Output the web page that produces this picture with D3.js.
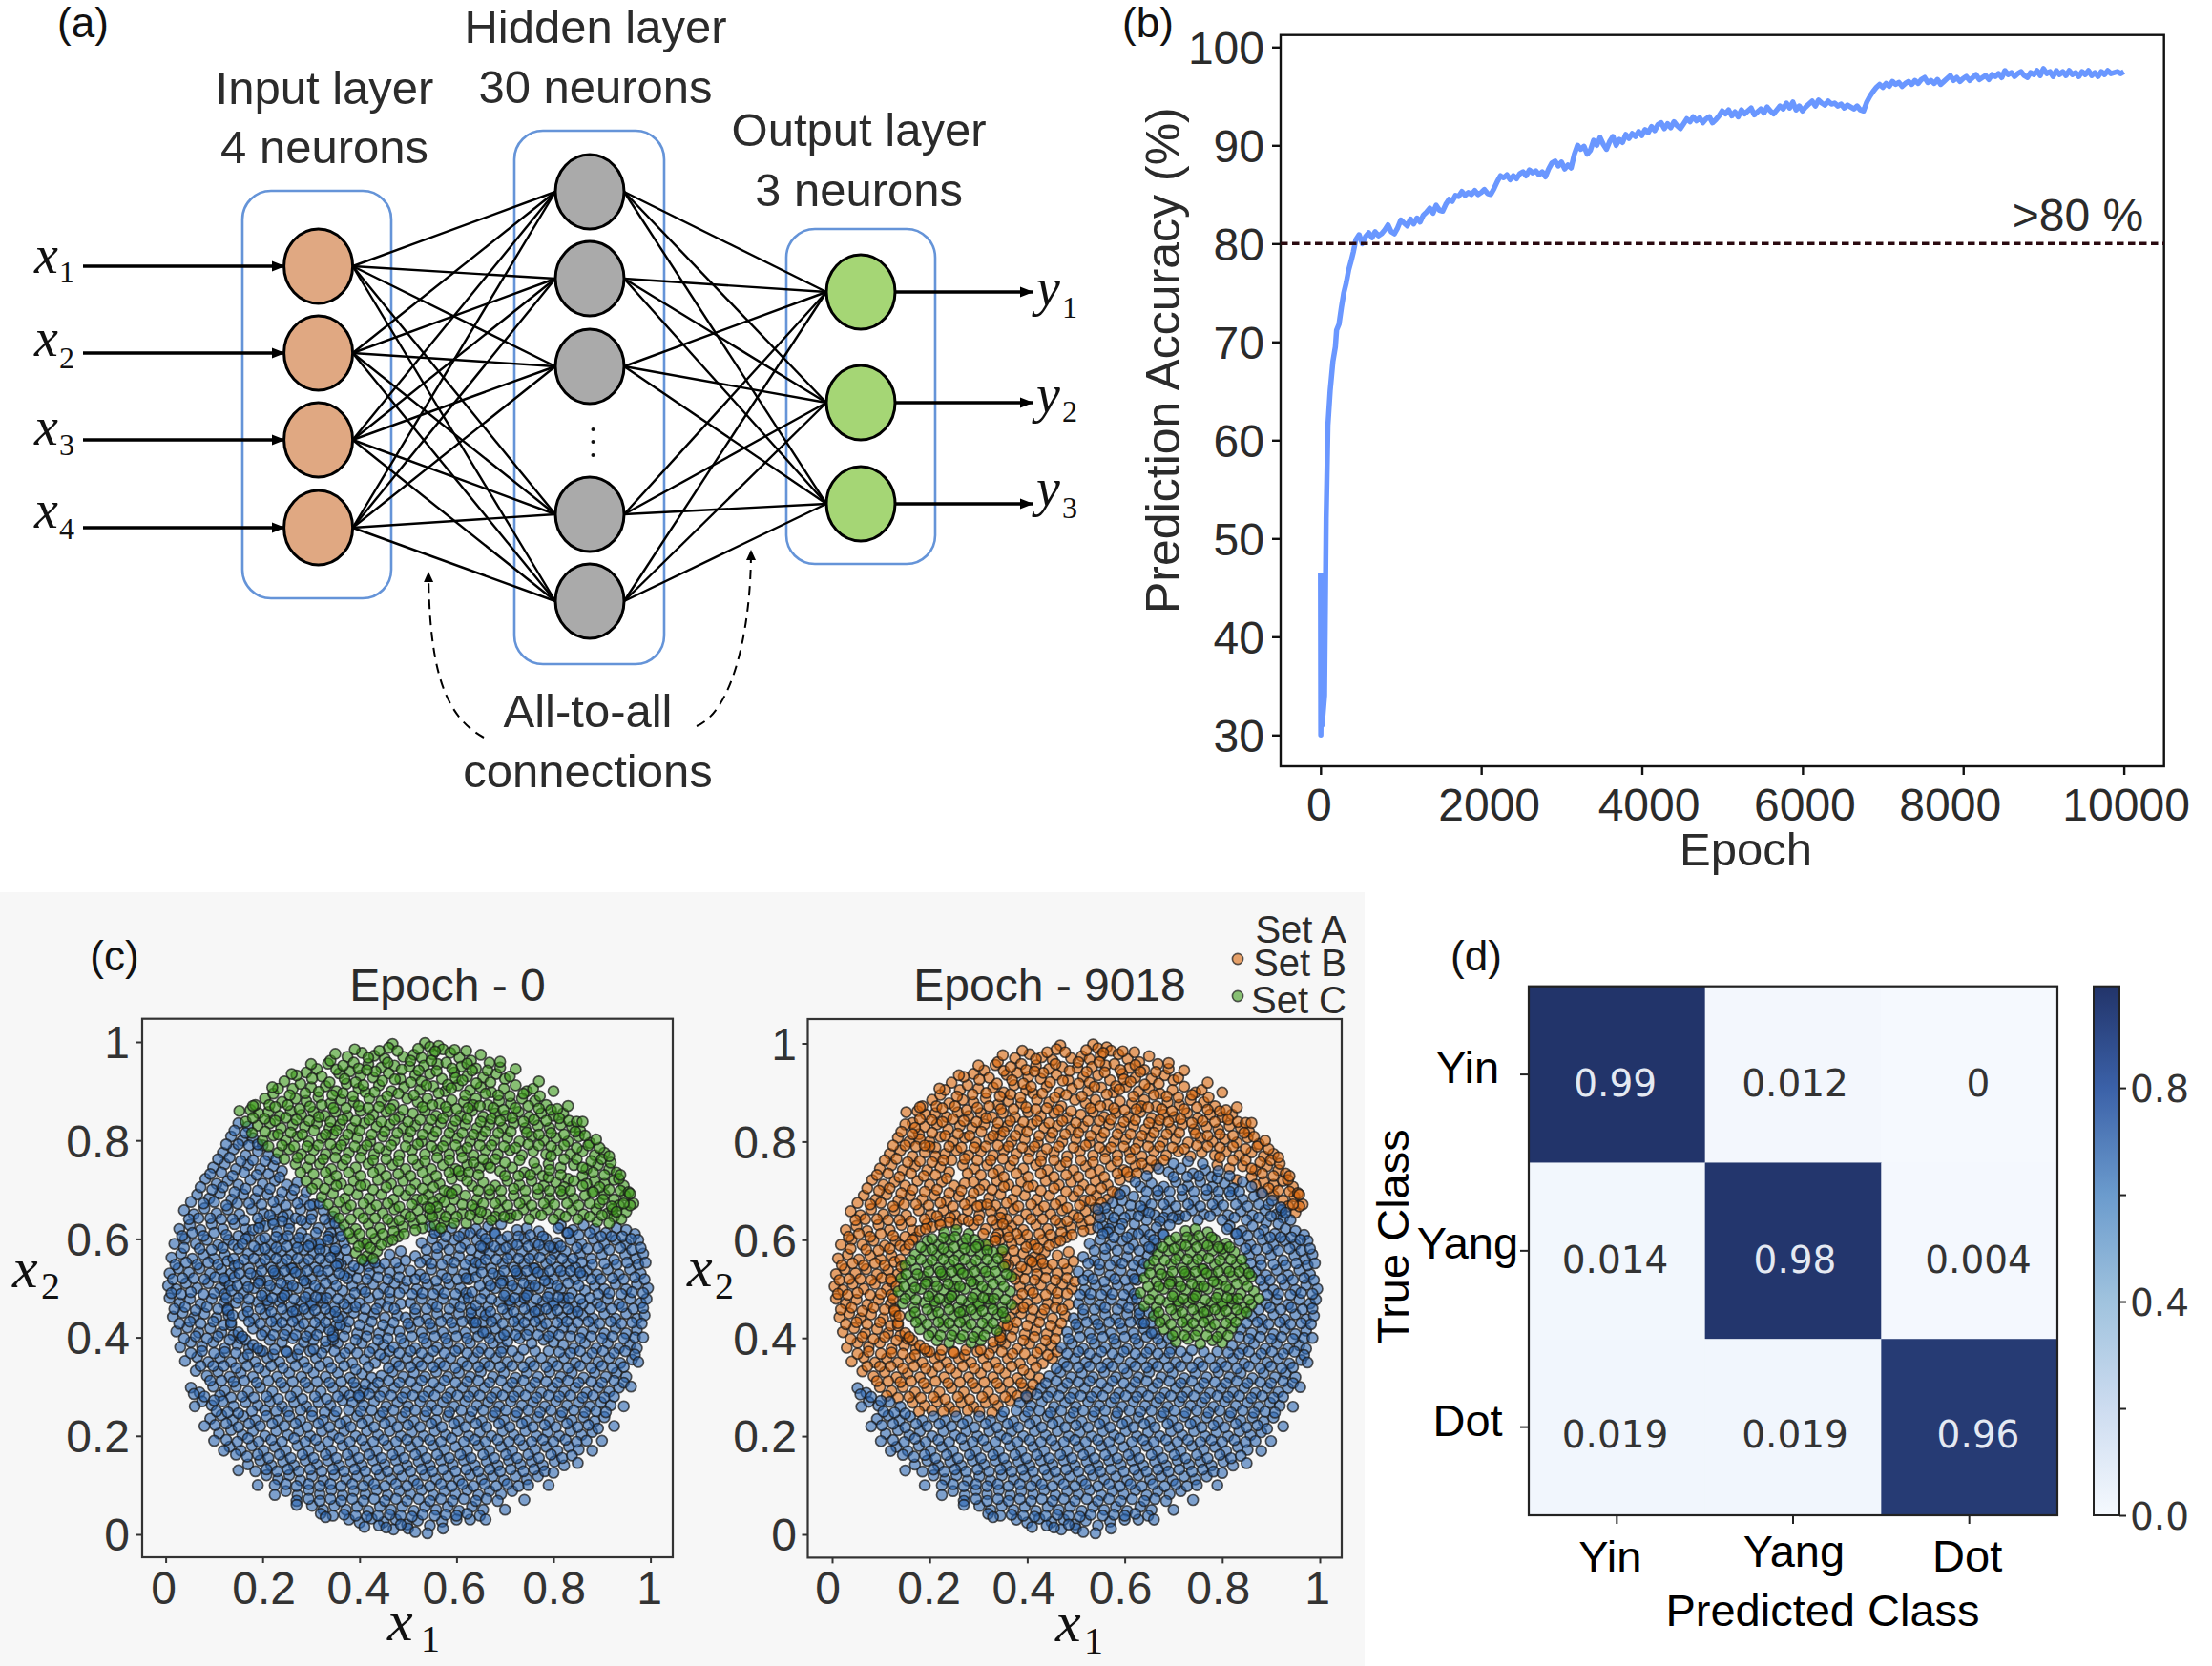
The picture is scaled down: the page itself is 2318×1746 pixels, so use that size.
<!DOCTYPE html>
<html><head><meta charset="utf-8">
<script src="https://cdn.jsdelivr.net/npm/d3@7"></script>
<style>html,body{margin:0;background:#fff}svg{display:block}text{font-family:"Liberation Sans",Arial,sans-serif}</style>
</head><body><svg id="c" width="2318" height="1746"></svg>
<script>
// (a) network
const inputNodes=[279,370,461,553], hiddenNodes=[201,292,384,539,630], outputNodes=[306,422,528];
// (b) accuracy curve
const earlyEpochs=[0,4,8,20,50,70,92,120,154,185,200,230,260,290,320,350,380,410];
const earlyAcc=[46.5,30,33,31,34,52,61.5,65,68,69.5,71.2,71.8,73.5,75,76,77.3,78.2,79.2];
const laterStart=440, laterStep=40;
const laterAcc=[80.4,80.9,80.0,80.7,81.1,80.6,81.2,80.8,81.0,81.4,
81.9,81.2,81.0,81.6,82.4,82.1,81.8,82.5,82.0,82.6,
82.2,82.9,83.2,83.6,83.1,83.9,83.4,83.3,84.0,84.5,
84.3,84.9,84.8,85.3,84.9,85.2,85.0,85.4,85.0,85.2,
85.5,85.1,85.0,85.6,86.3,86.9,86.7,87.0,86.5,86.9,
86.6,87.1,87.3,86.9,87.5,87.2,87.4,87.0,87.3,86.8,
87.6,88.2,88.4,87.9,88.3,87.6,88.0,87.7,89.1,90.0,
89.6,89.9,89.1,89.5,90.5,90.0,90.8,90.1,89.6,90.4,
90.9,90.0,90.6,90.3,91.1,90.7,91.2,90.9,91.4,91.0,
91.6,91.3,91.9,91.5,92.1,92.3,91.7,92.2,91.8,92.4,
92.0,91.7,92.2,92.7,92.4,92.9,92.5,92.8,92.3,92.7,
92.9,92.3,92.6,93.0,93.5,93.2,93.6,93.0,93.4,92.9,
93.6,93.2,93.5,93.8,93.1,93.4,93.7,93.3,93.9,93.5,
93.2,93.6,94.0,93.7,94.3,93.8,94.4,93.6,94.0,93.5,
93.9,94.2,94.5,94.0,94.6,94.3,94.1,94.5,94.2,94.3,
94.0,94.2,93.8,94.1,93.9,93.7,94.0,93.6,93.5,94.4,
95.0,95.5,95.9,96.2,95.9,96.3,96.0,96.5,96.2,96.4,
96.0,96.3,96.5,96.2,96.6,96.3,96.7,96.9,96.4,96.6,
96.3,96.7,96.2,96.5,96.8,97.1,96.6,96.9,96.5,96.8,
97.0,96.6,96.9,97.2,96.7,96.9,97.1,96.7,97.2,97.0,
97.3,96.9,97.6,97.2,97.4,97.0,97.3,97.5,97.1,96.9,
97.4,97.2,97.6,97.1,97.8,97.3,97.5,97.0,97.6,97.2,
97.5,97.1,97.6,97.2,97.4,97.0,97.5,97.2,97.6,97.1,
97.4,97.0,97.5,97.2,97.6,97.3,97.4,97.5,97.3,97.5];
const bXTicks=[0,2000,4000,6000,8000,10000], bYTicks=[30,40,50,60,70,80,90,100];
// (c) samples, x,y in thousandths, grouped by class at epoch 0 / epoch 9018
const greenOrange=[468,996,460,988,535,998,545,990,563,992,572,985,405,978,430,972,452,966,490,970,512,974,528,968,551,975,587,978,606,968,630,962,335,956,340,962,375,970,388,958,418,955,445,948,472,952,503,950,533,952,561,955,579,958,610,950,640,946,668,958,
290,938,312,945,322,930,358,936,380,940,402,932,428,928,460,936,484,925,515,932,545,935,570,925,595,938,622,930,655,928,682,935,700,925,
245,920,262,905,278,915,300,908,330,910,352,900,373,915,398,905,412,898,440,912,466,900,492,908,525,903,552,910,577,900,603,912,628,902,650,908,672,898,698,905,722,912,745,900,
205,885,222,895,240,878,268,885,290,880,315,888,340,875,362,882,388,878,420,885,445,880,470,872,498,885,520,878,540,885,565,875,590,882,615,878,640,885,665,872,688,880,712,875,735,885,762,880,785,872,
152,860,175,862,192,855,212,858,235,850,258,860,280,852,305,858,328,850,350,858,375,850,402,860,428,852,455,858,482,848,510,855,535,860,558,850,582,858,608,850,632,860,655,848,680,855,702,850,728,858,750,848,775,855,800,850,820,855,
165,838,190,830,215,835,238,825,262,832,287,828,312,835,338,825,360,832,385,825,410,835,435,828,462,832,490,825,515,830,542,825,568,835,592,828,618,832,642,825,668,832,695,826,718,835,742,825,768,830,792,825,815,832,838,828,855,820,
200,800,222,810,248,800,272,808,295,798,322,805,345,812,368,800,395,805,422,798,448,808,472,800,500,805,528,798,552,808,578,800,602,805,628,798,652,808,678,800,705,805,730,798,755,808,780,800,805,805,830,798,852,808,875,795,
232,775,255,782,280,772,305,780,330,772,352,782,378,775,405,780,430,772,455,778,482,770,508,780,535,772,560,780,585,772,610,778,635,770,660,780,685,772,710,780,735,770,758,778,785,772,808,780,835,772,860,778,885,770,905,775,
268,752,292,745,318,752,342,742,365,750,392,745,418,752,442,742,468,750,495,742,520,750,548,742,572,750,598,742,622,750,648,745,665,752,790,752,815,745,842,750,868,742,892,750,915,742,930,735,
290,718,312,712,338,720,362,712,388,718,412,710,438,720,465,712,490,718,515,712,540,720,565,712,590,722,610,728,830,722,860,728,885,718,905,712,925,720,945,708,
322,685,345,692,370,682,395,690,420,682,445,690,470,680,495,688,518,680,542,690,565,682,585,695,880,695,905,690,925,680,948,688,965,672,
348,655,372,662,398,652,422,660,448,652,472,660,495,650,520,658,540,665,935,668,950,655,958,668,
368,628,392,620,418,630,442,622,468,632,490,625,512,632,530,622,385,600,408,592,432,600,458,594,480,605,392,572,415,565,436,575,415,590];
const greenOrange2=[478,982,521,986,556,981,596,984,418,968,441,982,505,962,622,956,352,944,366,952,398,946,433,940,458,958,487,944,522,942,548,962,591,946,598,927,632,942,664,942,690,948,
302,926,270,932,338,918,369,925,392,918,415,943,447,921,473,924,506,918,528,920,559,941,582,913,612,922,641,916,670,918,710,930,
232,905,256,892,288,896,316,899,344,892,366,896,386,890,408,912,431,898,457,890,480,895,512,892,538,912,563,896,589,906,618,892,634,872,660,895,686,892,710,890,738,895,758,905,772,890,
185,872,214,872,226,868,252,872,276,864,298,869,322,872,346,866,372,866,398,870,418,866,440,868,464,864,490,862,530,868,550,872,578,868,600,864,624,866,648,870,676,866,697,862,722,866,748,870,770,865,795,862,808,864,
180,846,204,844,226,840,248,846,270,842,296,840,316,848,340,838,365,842,392,840,420,842,445,838,472,842,500,838,525,842,548,842,572,845,598,840,622,844,650,838,672,844,690,840,715,846,738,838,760,842,785,840,812,845,832,840,848,838,
178,815,205,818,232,812,258,816,282,812,306,820,330,812,352,820,376,812,400,820,425,812,452,818,478,815,505,818,530,812,558,818,585,815,612,815,635,812,660,818,686,815,712,818,745,816,770,812,795,815,822,812,845,818,865,810,
212,788,240,790,265,788,292,788,315,790,340,792,362,790,390,788,415,790,440,785,465,790,495,788,520,792,548,788,572,788,598,790,622,785,648,790,672,790,698,788,722,785,748,792,770,790,795,788,822,790,848,785,872,790,895,785,
245,762,272,765,298,762,325,762,350,765,372,762,402,765,428,760,455,762,480,758,510,762,535,758,560,765,585,760,612,765,635,755,655,762,680,762,795,768,822,762,848,762,878,758,900,762,918,755,
278,735,305,732,330,735,352,728,378,735,402,728,428,735,455,728,480,732,505,728,530,735,558,728,585,735,605,738,625,735,860,745,882,735,905,730,935,722,
302,702,328,702,352,708,378,700,402,708,428,700,455,705,480,698,505,700,530,702,552,705,575,698,868,712,895,705,915,700,938,698,955,695,
335,670,358,675,382,668,408,672,435,668,458,672,482,665,508,670,530,680,552,675,945,672,
358,642,382,640,408,642,432,642,458,640,482,638,505,645,528,640,545,650,378,612,400,610,425,612,448,610,470,615,492,610,515,618,398,585,422,582,445,588,468,598,405,558,428,560,
800,900,830,870,860,838,888,802,915,768,938,730,958,692,770,920,722,945,690,960,650,974,620,982,180,870,220,908,260,935,300,955,350,976,390,985];
const greenBlue=[690,738,715,745,740,735,765,742,632,708,655,715,680,708,705,718,730,710,755,718,780,708,805,715,822,705,
595,680,618,688,642,680,668,690,692,680,718,688,742,680,768,690,792,682,818,690,842,682,865,688,
565,652,588,660,612,652,638,660,662,650,688,658,712,650,738,660,762,652,788,660,812,650,838,658,862,650,888,660,912,652,925,645,
555,628,575,635,620,632,645,640,680,645,710,642,890,635,915,632,940,640];
const greenBlue2=[700,728,728,728,752,730,778,728,790,725,645,698,668,700,692,698,718,702,742,698,768,702,792,698,815,698,835,698,
612,670,632,668,655,672,680,672,705,668,730,672,755,668,780,672,802,670,828,672,852,668,875,672,895,672,
578,645,600,645,628,648,650,655,672,638,698,645,725,648,750,640,775,648,800,640,825,645,850,640,875,645,900,648,922,660,568,622,595,632,
600,700,622,718,645,730,670,745,700,755,730,760,760,755,792,740,815,730,842,718,860,708,882,695,902,680,920,666,575,675,590,692,550,645,560,665,545,662,930,655];
const blueOrange=[150,835,170,828,135,808,158,800,180,805,200,790,118,775,140,782,165,770,190,778,212,770,98,745,122,752,145,742,170,750,195,742,222,748,240,738,
82,722,105,712,128,718,150,710,175,720,200,712,225,718,250,710,272,715,65,690,90,682,112,692,136,680,160,690,185,682,210,690,235,680,260,688,285,680,305,670,
38,658,58,650,80,662,105,652,128,660,152,650,178,660,202,652,228,660,252,650,278,660,302,650,325,658,345,645,
28,620,50,628,72,618,95,630,118,620,142,630,165,620,195,632,222,638,255,632,290,630,315,622,338,630,360,618,
18,590,40,600,62,590,85,598,108,588,130,598,320,590,345,600,368,592,12,562,32,570,55,560,78,568,100,560,122,568,355,565,375,558,462,568,485,575,418,545,
8,530,26,540,48,532,70,540,92,530,115,538,380,532,398,540,420,530,440,540,462,532,482,540,
5,505,22,498,42,510,65,500,88,510,112,500,385,505,405,498,428,508,450,500,472,510,492,500,
8,480,28,470,50,478,72,468,95,478,120,470,380,478,400,470,420,480,442,470,462,478,485,468,
15,442,35,450,58,440,80,448,105,440,130,445,365,442,388,450,408,440,430,448,452,440,478,445,
22,412,45,420,68,410,92,418,115,410,140,405,345,410,372,418,395,408,418,416,440,408,462,415,
30,380,52,390,75,382,98,390,122,378,148,385,172,378,330,380,355,388,380,378,405,388,428,378,450,385,
40,352,65,360,88,350,112,358,135,350,160,358,185,350,210,358,235,350,260,358,285,350,310,358,335,350,360,358,385,348,410,355,432,348,452,358,
62,332,85,322,108,330,132,320,155,328,180,320,205,330,230,320,255,328,280,320,305,328,330,320,355,328,380,318,405,326,425,318,
98,300,122,292,145,300,170,290,195,298,220,290,245,298,270,290,295,298,320,290,345,298,368,290,392,298,408,290,
165,268,190,262,215,270,240,260,265,268,290,260,315,268,340,262,365,272];
const blueOrange2=[142,820,165,815,150,792,172,790,125,792,190,792,108,762,132,765,155,758,180,760,205,758,228,762,92,732,115,735,138,728,162,735,188,730,212,732,235,725,
72,705,96,700,118,705,142,695,165,702,190,698,215,702,240,695,265,700,290,695,52,675,78,672,100,675,125,668,148,672,172,672,198,670,222,675,248,668,272,672,298,668,318,672,
48,640,68,642,92,642,115,640,138,640,162,638,190,642,215,648,242,645,268,642,300,640,328,640,350,632,
34,606,55,612,78,606,100,612,125,608,150,606,172,605,340,612,362,605,38,582,70,580,95,578,118,582,140,588,335,605,348,575,372,578,
20,548,42,552,65,548,88,552,108,548,128,555,135,530,362,548,388,545,410,555,432,552,452,550,475,552,495,556,
15,518,35,520,58,520,80,518,102,522,122,515,395,520,415,518,438,522,458,518,482,522,498,515,
12,490,32,488,52,492,78,488,100,490,122,488,390,490,412,492,438,488,462,492,482,490,
18,458,40,462,62,455,85,462,108,458,128,458,375,460,392,462,412,458,435,458,458,462,472,458,
28,428,50,432,72,428,98,432,120,425,135,425,352,425,378,432,400,425,425,432,448,425,470,430,
38,398,62,402,85,398,108,402,132,395,155,398,345,395,368,402,392,395,415,402,438,395,458,398,
52,368,75,372,100,368,122,370,145,368,170,365,195,372,222,365,248,372,272,365,298,372,322,368,348,372,370,368,395,368,420,370,442,365,462,372,
72,342,98,342,120,342,145,338,168,342,192,338,218,342,242,338,268,342,292,338,318,342,342,338,368,342,392,335,418,340,
92,312,115,312,140,310,162,312,188,308,212,312,238,308,262,310,288,308,312,310,338,308,362,310,388,308,412,305,
112,282,135,278,158,280,182,278,208,280,232,275,258,280,282,275,308,280,332,275,355,280,380,282,400,278,
178,250,205,252,228,250,252,250,278,252,302,250,328,248,
120,520,125,480,128,455,135,430,150,410,165,395,180,385,200,372,225,376,250,370,275,376,305,376,330,392,345,402,360,425,375,520,140,560,150,580,165,600,180,618,205,626,240,636,280,638,310,612,335,598,355,550,
132,505,138,445,158,402,190,378,142,545,158,590,192,622,222,630];
const blueBlue=[545,625,565,615,590,622,615,612,640,620,665,625,692,630,815,628,840,618,862,628,885,620,908,612,930,622,950,618,968,610,
528,592,550,600,572,590,595,598,618,590,642,598,665,592,835,598,858,590,882,600,905,590,928,598,950,590,975,598,
515,565,538,558,560,568,582,558,605,565,628,558,648,568,855,568,878,560,900,568,925,558,948,568,970,560,985,570,
505,535,525,528,548,538,570,528,592,538,615,530,635,538,868,535,890,528,912,538,935,528,958,538,980,530,
518,498,540,508,562,498,585,508,608,500,885,505,905,498,928,508,950,498,972,508,995,500,
505,470,528,478,550,468,572,478,595,470,615,478,890,470,912,478,935,468,958,478,980,470,992,478,
495,440,515,448,538,438,560,448,582,440,605,448,628,438,860,445,882,438,905,448,928,438,950,448,972,438,988,445,
482,412,505,420,528,410,550,418,572,410,595,418,618,410,640,418,662,410,838,418,860,410,882,418,905,408,928,418,950,408,972,415,
470,380,492,388,515,378,538,388,560,380,582,388,605,378,628,388,652,378,675,388,695,378,820,385,842,378,865,388,888,378,912,388,935,378,958,385,972,378,
475,350,498,358,520,350,542,358,565,348,588,358,612,350,635,358,658,348,682,358,705,350,728,360,752,350,775,358,798,350,822,358,845,348,868,358,892,350,915,358,938,348,962,355,
445,322,468,330,490,320,512,328,535,320,558,330,582,320,605,328,628,320,650,330,675,320,698,328,722,318,745,328,768,320,792,330,815,320,838,328,862,318,885,328,908,320,930,328,950,320,
52,298,70,288,428,298,450,290,472,298,495,288,518,298,542,290,565,298,588,288,612,298,635,290,658,298,682,288,705,298,728,290,752,298,775,288,798,298,822,290,845,298,868,288,892,298,915,290,935,298,
75,270,95,262,118,270,140,260,385,268,408,262,430,270,455,260,478,268,500,260,525,270,548,262,572,268,595,260,618,270,642,262,665,268,688,260,712,270,735,262,758,268,782,260,805,270,828,262,852,268,875,260,898,268,918,262,
92,235,115,242,138,232,160,240,185,232,208,240,232,232,255,240,278,232,302,240,325,232,348,240,372,230,395,240,418,232,442,240,465,230,488,238,512,230,535,240,558,232,582,240,605,230,628,238,652,230,675,240,698,232,722,240,745,230,768,238,792,230,815,240,838,232,862,238,885,230,905,238,
110,205,135,212,158,202,180,210,205,200,228,210,252,202,275,210,298,200,322,210,345,202,368,210,392,200,415,210,438,202,462,210,485,200,508,208,532,200,555,210,578,202,602,210,625,200,648,208,672,200,695,210,718,202,742,210,765,200,788,208,812,200,835,210,858,202,880,208,
132,178,155,170,178,180,202,170,225,178,248,170,272,180,295,170,318,178,342,170,365,180,388,170,412,178,435,170,458,180,482,170,505,178,528,170,552,180,575,172,598,178,622,170,645,180,668,170,692,178,715,170,738,180,762,172,785,178,808,170,832,178,852,172,
170,142,195,150,218,140,242,148,265,140,288,150,312,142,335,150,358,140,382,148,405,140,428,150,452,142,475,150,498,140,522,148,545,140,568,150,592,142,615,150,638,140,662,148,685,140,708,150,732,142,755,148,778,140,802,148,822,140,
208,120,232,112,255,120,278,110,302,118,325,110,348,120,372,112,395,118,418,110,442,120,465,112,488,118,512,110,535,120,558,112,582,118,605,110,628,120,652,112,675,118,698,110,722,118,745,112,768,118,
248,88,272,80,295,90,318,82,342,90,365,80,388,88,412,82,435,90,458,80,482,88,505,82,528,90,552,80,575,88,598,82,622,90,645,80,668,88,692,82,715,88,
302,58,325,50,348,58,372,50,395,56,418,48,442,56,465,50,488,56,512,48,535,56,558,50,582,56,605,48,632,56,655,50,
378,30,400,24,425,32,450,25,475,30,498,20,520,28,545,18,570,26,600,30,628,30,440,18,470,10,500,12,515,5,540,2,572,12];
const blueBlue2=[555,612,578,605,605,605,628,612,652,610,678,612,828,612,852,608,875,612,898,605,920,605,942,605,960,600,
538,578,560,582,585,578,608,582,630,578,655,582,848,582,870,580,892,582,915,578,938,582,962,578,980,582,
525,552,548,550,570,548,595,552,618,548,640,552,858,552,880,548,905,550,930,548,952,552,975,548,990,552,
515,518,535,520,558,515,580,520,602,518,625,518,878,518,898,518,922,520,945,518,968,522,988,518,
508,488,530,490,552,488,575,490,598,488,620,490,892,488,915,490,940,488,962,492,985,490,
515,458,538,458,560,462,585,458,608,462,630,458,650,452,875,458,898,462,920,458,942,462,965,458,985,460,
500,428,522,432,545,428,568,432,590,430,612,432,635,430,655,432,850,430,872,432,895,428,918,432,940,428,962,430,982,428,
485,398,508,402,532,398,555,402,578,398,600,402,622,398,645,402,668,398,690,400,835,402,855,398,878,402,900,398,922,402,945,398,968,400,
482,368,505,372,528,368,552,372,575,368,598,372,622,368,645,370,668,368,692,370,715,372,738,375,762,372,790,372,812,370,835,368,855,372,880,368,902,372,925,368,948,372,968,365,
460,338,482,342,505,340,528,342,552,340,575,342,598,338,622,342,645,340,668,342,690,340,715,342,738,340,760,342,785,340,808,342,830,338,855,342,878,338,900,342,922,338,945,340,
438,308,460,312,482,308,505,310,528,312,552,308,575,312,598,308,622,310,645,312,668,308,692,312,715,308,738,312,762,308,785,310,808,308,830,312,852,308,878,310,900,308,925,312,945,308,
58,285,80,280,100,272,398,282,420,285,442,280,465,282,488,278,510,282,532,280,555,282,580,278,602,282,625,280,648,282,672,278,695,282,718,280,742,282,765,278,790,282,812,280,835,282,860,278,882,282,905,278,925,280,
105,250,128,248,150,246,352,250,378,252,402,250,425,252,448,248,470,252,495,248,515,252,538,250,560,252,585,248,610,252,632,250,655,252,680,248,702,252,725,248,748,252,772,248,795,252,818,248,842,252,865,248,888,250,908,248,
102,222,125,225,150,218,172,225,195,220,220,225,245,220,268,225,292,218,315,225,338,218,360,225,382,218,405,225,430,218,452,225,478,218,500,222,525,218,548,225,570,218,595,225,618,218,640,225,662,218,688,225,710,218,735,225,758,218,782,222,805,218,828,225,850,218,872,222,892,215,
125,192,148,188,170,195,192,188,218,192,240,188,265,195,288,188,310,192,335,188,358,195,380,188,405,192,428,188,450,192,475,188,498,192,520,188,545,192,568,188,590,195,615,188,638,192,660,188,685,192,708,188,730,192,755,188,778,192,800,188,825,192,848,188,868,190,
145,162,168,158,190,162,212,155,235,162,258,155,282,162,305,155,330,162,352,155,375,162,398,155,420,162,445,155,468,162,492,155,515,162,538,155,560,162,585,155,608,162,630,155,655,162,678,155,702,162,725,155,748,162,770,155,795,162,818,155,838,160,
185,128,208,132,230,128,252,132,275,128,298,132,322,128,345,132,368,128,390,132,412,128,435,132,458,128,480,132,505,128,528,132,550,128,572,132,598,128,620,132,645,128,668,132,690,128,712,132,738,128,760,132,782,128,800,125,
225,100,248,102,270,98,295,102,318,98,340,102,362,98,385,102,408,98,430,102,452,98,475,102,498,98,520,102,545,98,568,102,590,98,612,102,635,98,658,102,682,98,705,102,728,98,748,100,
270,68,295,72,318,68,340,72,362,68,385,72,408,68,430,72,452,68,475,72,498,68,522,72,545,68,568,72,592,68,615,72,640,68,662,72,685,68,
320,42,345,38,368,40,392,38,415,36,438,38,462,40,485,38,508,36,530,40,555,38,578,40,600,38,622,42,648,38,410,15,455,14,485,20,
810,622,830,612,680,610,660,600,650,585,620,520,625,480,630,450,640,430,655,410,
120,170,100,190,150,130,190,100,225,80,270,60,330,35,80,220,60,260,850,145,880,170,900,190,925,220,945,260,960,300,790,100,740,70,700,50,660,30,975,350,985,400];
const blueGreen=[230,615,255,620,280,612,195,598,218,590,242,600,268,592,292,600,315,590,170,570,192,578,215,568,238,575,260,568,285,578,305,570,330,575,350,580,
150,548,172,540,195,550,218,542,240,550,262,540,285,550,308,542,330,550,352,545,142,522,165,515,188,525,210,515,232,525,255,518,278,528,300,518,322,525,345,518,368,525,
136,495,160,490,182,500,205,490,228,498,250,490,272,500,295,490,318,498,340,490,365,495,145,470,168,462,190,472,212,465,235,472,258,462,280,472,302,465,325,470,348,462,368,468,
160,445,182,438,205,448,228,438,250,445,272,438,295,448,318,440,340,448,355,440,180,418,205,412,228,422,250,415,275,422,298,412,320,420,338,415,215,395,240,390,262,398,285,390,305,395,
250,505,240,480,300,470,270,455,225,530,290,510,210,475,320,480,260,540,195,515,
725,618,745,622,770,615,692,598,715,590,740,600,762,592,785,600,808,592,668,570,690,578,712,568,735,575,758,568,780,578,802,570,825,575,
650,548,672,540,695,550,718,542,740,550,762,540,785,550,808,542,830,550,845,542,640,522,665,515,688,525,710,515,732,525,755,518,778,528,800,518,822,525,845,518,860,525,
632,492,658,490,680,500,702,490,725,498,748,490,770,500,792,490,815,498,838,490,865,495,875,480,640,465,665,462,688,472,710,465,732,472,755,462,778,472,800,465,822,470,845,462,860,468,
660,445,682,438,705,448,728,438,750,445,772,438,795,448,818,440,838,448,680,418,705,412,728,422,750,415,775,422,798,412,820,420,705,392,730,398,755,388,780,395,800,390,
750,505,740,480,800,470,770,455,725,530,790,510,710,475,820,480,760,540,695,515];
const blueGreen2=[205,602,228,604,252,606,275,602,300,590,182,585,205,580,228,582,250,585,272,582,295,585,318,578,162,558,182,560,205,558,228,560,250,558,272,560,295,558,318,560,340,562,
152,530,175,530,198,535,222,535,245,535,268,532,292,535,315,535,335,535,358,530,148,505,170,502,192,510,215,505,238,510,262,505,285,515,308,505,330,510,352,505,
150,480,172,478,198,485,220,480,245,485,265,478,288,482,310,482,332,480,355,478,170,452,195,458,218,452,240,458,262,452,285,458,308,455,330,458,350,452,
172,432,195,428,218,432,240,430,262,432,285,428,308,430,330,430,198,405,222,405,245,405,268,405,290,402,312,405,
705,605,728,605,752,608,778,605,800,582,678,585,702,582,725,588,748,585,770,588,792,585,815,585,660,558,682,558,705,560,728,560,750,560,772,562,795,558,818,560,840,560,
652,532,675,530,698,535,722,535,745,535,768,532,792,535,815,535,835,535,855,532,648,505,670,505,692,510,715,505,738,510,762,505,782,515,808,505,830,510,852,505,
650,478,672,478,698,485,720,480,745,485,765,478,788,482,810,482,832,480,855,478,670,452,695,458,718,452,740,458,762,452,785,458,808,455,830,458,850,452,
672,432,695,428,718,432,740,430,762,432,785,428,808,430,828,432,698,405,722,405,745,405,768,405,790,402,812,405];
const cTicks=[0,.2,.4,.6,.8,1];
// (d) confusion matrix
const classes=["Yin","Yang","Dot"];
const confusion=[[0.99,0.012,0],[0.014,0.98,0.004],[0.019,0.019,0.96]];
const confusionText=[["0.99","0.012","0"],["0.014","0.98","0.004"],["0.019","0.019","0.96"]];
const cmapStops=[0,.2,.4,.6,.8,.99];
const cmapColors=["#f5f9fe","#cddcf0","#a0c3de","#6b9bcd","#3b61a8","#22346a"];
const cbTicks=[0,.2,.4,.6,.8];

const svg=d3.select("#c");
const INK="#2b2b2b";
function T(x,y,s,o={}){return svg.append("text").attr("x",x).attr("y",y).text(s)
 .attr("font-size",o.size||47).attr("fill",o.fill||INK).attr("text-anchor",o.anchor||"middle")
 .style("font-family",o.family||null).style("font-style",o.style||null)
 .attr("transform",o.rot?`rotate(${o.rot} ${x} ${y})`:null)}
const SERIF='"Liberation Serif",serif';
function M(x,y,b,sx,sy,s,size,ssize){T(x,y,b,{size,family:SERIF,style:"italic",anchor:"start",fill:"#111"});T(sx,sy,s,{size:ssize,family:SERIF,anchor:"start",fill:"#111"})}

// background for (c)
svg.append("rect").attr("x",0).attr("y",935).attr("width",1430).attr("height",811).attr("fill","#f7f7f7");

// ---- (a)
const defs=svg.append("defs");
defs.append("marker").attr("id","ah").attr("markerUnits","userSpaceOnUse").attr("markerWidth",14).attr("markerHeight",12).attr("refX",13).attr("refY",6).attr("orient","auto")
 .append("path").attr("d","M0,0.5L14,6L0,11.5Z").attr("fill","#000");
defs.append("marker").attr("id","ad").attr("markerUnits","userSpaceOnUse").attr("markerWidth",11).attr("markerHeight",12).attr("refX",10).attr("refY",6).attr("orient","auto")
 .append("path").attr("d","M0,1L11,6L0,11Z").attr("fill","#000");
[[254,200,156,427],[539,137,157,559],[824,240,156,351]].forEach(b=>svg.append("rect").attr("x",b[0]).attr("y",b[1]).attr("width",b[2]).attr("height",b[3]).attr("rx",30).attr("fill","none").attr("stroke","#6594d8").attr("stroke-width",2.6));
const XI=333.6,XH=618,XO=902,RX=36,RY=39;
const links=svg.append("g").attr("stroke","#000").attr("stroke-width",2.4);
inputNodes.forEach(a=>hiddenNodes.forEach(b=>links.append("line").attr("x1",XI+RX).attr("y1",a).attr("x2",XH-RX).attr("y2",b)));
hiddenNodes.forEach(a=>outputNodes.forEach(b=>links.append("line").attr("x1",XH+RX).attr("y1",a).attr("x2",XO-RX).attr("y2",b)));
inputNodes.forEach(y=>svg.append("line").attr("x1",87).attr("x2",298).attr("y1",y).attr("y2",y).attr("stroke","#000").attr("stroke-width",3.6).attr("marker-end","url(#ah)"));
outputNodes.forEach(y=>svg.append("line").attr("x1",938).attr("x2",1082).attr("y1",y).attr("y2",y).attr("stroke","#000").attr("stroke-width",3.6).attr("marker-end","url(#ah)"));
[[XI,inputNodes,"#e0a882"],[XH,hiddenNodes,"#aaaaaa"],[XO,outputNodes,"#a5d675"]].forEach(([x,ys,f])=>ys.forEach(y=>svg.append("ellipse").attr("cx",x).attr("cy",y).attr("rx",RX).attr("ry",RY).attr("fill",f).attr("stroke","#000").attr("stroke-width",3)));
[450,463,477].forEach(y=>svg.append("circle").attr("cx",621.5).attr("cy",y).attr("r",2).attr("fill","#111"));
[["M507,773C465,750 450,700 449,600"],["M730,761C768,745 787,660 787,577"]].forEach(d=>svg.append("path").attr("d",d[0]).attr("fill","none").attr("stroke","#000").attr("stroke-width",2).attr("stroke-dasharray","10 7").attr("marker-end","url(#ad)"));
T(340,109.4,"Input layer",{size:49});T(340,171,"4 neurons",{size:49});
T(624,45,"Hidden layer",{size:49});T(624,108,"30 neurons",{size:49});
T(900,152.6,"Output layer",{size:49});T(900,216,"3 neurons",{size:49});
T(616,762,"All-to-all",{size:49});T(616,825,"connections",{size:49});
T(87,39,"(a)",{size:44,fill:"#111"});T(1203,38.5,"(b)",{size:44,fill:"#111"});T(120,1017,"(c)",{size:44,fill:"#111"});T(1547,1016.6,"(d)",{size:44,fill:"#111"});
[[286,296],[373,386],[466,477],[553,565]].forEach((p,i)=>M(36,p[0],"x",62,p[1],String(i+1),56,32));
[[320,333],[432,441.5],[530,543]].forEach((p,i)=>M(1086,p[0],"y",1113,p[1],String(i+1),56,32));

// ---- (b)
const bx=d3.scaleLinear().domain([0,10000]).range([1383.8,2225.6]);
const by=d3.scaleLinear().domain([30,100]).range([770.3,49.3]);
const bL=1342,bT=36.7,bR=2267.7,bB=803;
const gb=svg.append("g");
const bxa=svg.append("g").attr("transform",`translate(0,${bB})`).call(d3.axisBottom(bx).tickValues(bXTicks).tickSize(9).tickFormat(d=>d));
const bxOff=[-2,8,7,2,-14,2];
bxa.selectAll("text").attr("x",(d,i)=>bxOff[i]).attr("y",57).attr("dy",0);
const bya=svg.append("g").attr("transform",`translate(${bL},0)`).call(d3.axisLeft(by).tickValues(bYTicks).tickSize(9));
bya.selectAll("text").attr("x",-17).attr("dy","0.35em");
[bxa,bya].forEach(a=>{a.select(".domain").remove();a.selectAll("line").attr("stroke","#111").attr("stroke-width",2.4);a.selectAll("text").attr("font-size",48).attr("fill",INK).style("font-family",'"Liberation Sans"')});
svg.append("rect").attr("x",bL).attr("y",bT).attr("width",bR-bL).attr("height",bB-bT).attr("fill","none").attr("stroke","#111").attr("stroke-width",2.4);
const accSeries=earlyEpochs.map((e,i)=>[e,earlyAcc[i]]).concat(laterAcc.map((v,i)=>[laterStart+i*laterStep,v]));
gb.append("path").attr("d",d3.line().x(d=>bx(d[0])).y(d=>by(d[1]))(accSeries)).attr("fill","none").attr("stroke","#6a97ff").attr("stroke-width",5.5).attr("stroke-linejoin","round");
svg.append("line").attr("x1",bL).attr("x2",bR).attr("y1",by(80)).attr("y2",by(80)).attr("stroke","#2a0a10").attr("stroke-width",3.6).attr("stroke-dasharray","7.5 4.5");
T(2177.5,242,">80 %",{size:48});
T(1829.5,907,"Epoch",{size:49});
T(1236,377.6,"Prediction Accuracy (%)",{size:50,rot:-90});

// ---- (c)
const pairs=a=>d3.range(0,a.length,2).map(i=>[a[i]/1000,a[i+1]/1000]);
const C={b:"#2b66b1",o:"#d9650a",g:"#3c9a1b"};
function scatter(x0,x1,y0,y1,frame,xOff,yLab,layers){
 const x=d3.scaleLinear().domain([0,1]).range([x0,x1]),y=d3.scaleLinear().domain([0,1]).range([y0,y1]);
 const g=svg.append("g");
 layers.forEach(([arr,c])=>g.append("g").selectAll("circle").data(pairs(arr)).join("circle")
  .attr("cx",d=>x(d[0])).attr("cy",d=>y(d[1])).attr("r",5.5).attr("fill",c).attr("fill-opacity",.6).attr("stroke","#1a1a1a").attr("stroke-opacity",.75).attr("stroke-width",1.7));
 const fmt=d=>String(d);
 const xa=svg.append("g").attr("transform",`translate(0,${frame[3]})`).call(d3.axisBottom(x).tickValues(cTicks).tickSize(6).tickFormat(fmt));
 xa.selectAll("text").attr("x",(d,i)=>xOff[i]).attr("y",48.5).attr("dy",0);
 const ya=svg.append("g").attr("transform",`translate(${frame[0]},0)`).call(d3.axisLeft(y).tickValues(cTicks).tickSize(6).tickFormat(fmt));
 ya.selectAll("text").attr("x",yLab-frame[0]).attr("dy","0.35em");
 [xa,ya].forEach(a=>{a.select(".domain").remove();a.selectAll("line").attr("stroke","#333").attr("stroke-width",2);a.selectAll("text").attr("font-size",48).attr("fill","#333").style("font-family",'"Liberation Sans"')});
 svg.append("rect").attr("x",frame[0]).attr("y",frame[1]).attr("width",frame[2]-frame[0]).attr("height",frame[3]-frame[1]).attr("fill","none").attr("stroke","#333").attr("stroke-width",2.2);
}
const GO=greenOrange.concat(greenOrange2),GB=greenBlue.concat(greenBlue2),BO=blueOrange.concat(blueOrange2),BB=blueBlue.concat(blueBlue2),BG=blueGreen.concat(blueGreen2);
scatter(173.6,681.6,1608,1092,[149,1067.7,705,1632],[-2.6,1,-1.5,-3,0,-1.5],136,
 [[BO,C.b],[BB,C.b],[BG,C.b],[GO,C.g],[GB,C.g]]);
scatter(872,1383,1608,1093.5,[846.5,1068,1406,1632.4],[-5,-1,-4,-5,-4.6,-3],835,
 [[GO,C.o],[BO,C.o],[GB,C.b],[BB,C.b],[BG,C.g]]);
T(469,1049,"Epoch - 0",{size:48});T(1100,1049,"Epoch - 9018",{size:48});
M(406,1719,"x",441,1731,"1",60,40);M(1106,1720,"x",1136,1733,"1",60,40);
M(13,1348.6,"x",43,1361,"2",60,40);M(720,1348,"x",749,1361,"2",60,40);
T(1411,988,"Set A",{size:40,anchor:"end"});T(1411,1023,"Set B",{size:40,anchor:"end"});T(1411,1062,"Set C",{size:40,anchor:"end"});
[[1005,C.o],[1044,C.g]].forEach(([y,c])=>svg.append("circle").attr("cx",1297).attr("cy",y).attr("r",5.6).attr("fill",c).attr("fill-opacity",.6).attr("stroke","#1a1a1a").attr("stroke-opacity",.72).attr("stroke-width",1.6));

// ---- (d)
const hx=d3.scaleBand().domain(classes).range([1602,2156]);
const hy=d3.scaleBand().domain(classes).range([1033.7,1588]);
const col=d3.scaleLinear().domain(cmapStops).range(cmapColors).interpolate(d3.interpolateRgb);
confusion.forEach((row,i)=>row.forEach((v,j)=>{
 svg.append("rect").attr("x",hx(classes[j])).attr("y",hy(classes[i])).attr("width",hx.bandwidth()+.5).attr("height",hy.bandwidth()+.5).attr("fill",col(v));
}));
const cellX=[1692.6,1881,2073],cellY=[1135,1320,1503];
confusionText.forEach((row,i)=>row.forEach((s,j)=>T(cellX[j],cellY[i],s,{size:39,family:'"DejaVu Sans"',fill:confusion[i][j]>.5?"#e4e9f2":"#333"}).attr("dy","0.36em")));
const hxa=svg.append("g").attr("transform","translate(0,1588)").call(d3.axisBottom(hx).tickSize(9));
const hxDx=[-7,1,-2],hxY=[59.5,53.6,58.5];
hxa.selectAll("text").attr("x",(d,i)=>hxDx[i]).attr("y",(d,i)=>hxY[i]).attr("dy",0);
const hya=svg.append("g").attr("transform","translate(1602,0)").call(d3.axisLeft(hy).tickSize(9));
const hyDy=[-7,-8,-7];
hya.selectAll("text").attr("x",-64).attr("text-anchor","middle").attr("dy",(d,i)=>16+hyDy[i]);
[hxa,hya].forEach(a=>{a.select(".domain").remove();a.selectAll("line").attr("stroke","#222").attr("stroke-width",2);a.selectAll("text").attr("font-size",47).attr("fill","#000").style("font-family",'"Liberation Sans"')});
svg.append("rect").attr("x",1602).attr("y",1033.7).attr("width",554).attr("height",554.3).attr("fill","none").attr("stroke","#222").attr("stroke-width",2.2);
T(1910,1704,"Predicted Class",{size:47,fill:"#000"});
T(1476,1296,"True Class",{size:47,fill:"#000",rot:-90});
const cby=d3.scaleLinear().domain([0,.99]).range([1588,1033.7]);
const grad=defs.append("linearGradient").attr("id","cb").attr("x1",0).attr("x2",0).attr("y1",1).attr("y2",0);
cmapStops.forEach((s,i)=>grad.append("stop").attr("offset",s/.99).attr("stop-color",cmapColors[i]));
svg.append("rect").attr("x",2194).attr("y",1033.7).attr("width",27).attr("height",554.3).attr("fill","url(#cb)").attr("stroke","#222").attr("stroke-width",2);
const cba=svg.append("g").attr("transform","translate(2221,0)").call(d3.axisRight(cby).tickValues(cbTicks).tickSize(7).tickFormat(d=>(Math.round(d*10)%4===0)?d.toFixed(1):""));
cba.select(".domain").remove();cba.selectAll("line").attr("stroke","#222").attr("stroke-width",2);
cba.selectAll("text").attr("x",11).attr("dy","0.36em").attr("font-size",39).attr("fill","#333").style("font-family",'"DejaVu Sans"');
</script></body></html>
